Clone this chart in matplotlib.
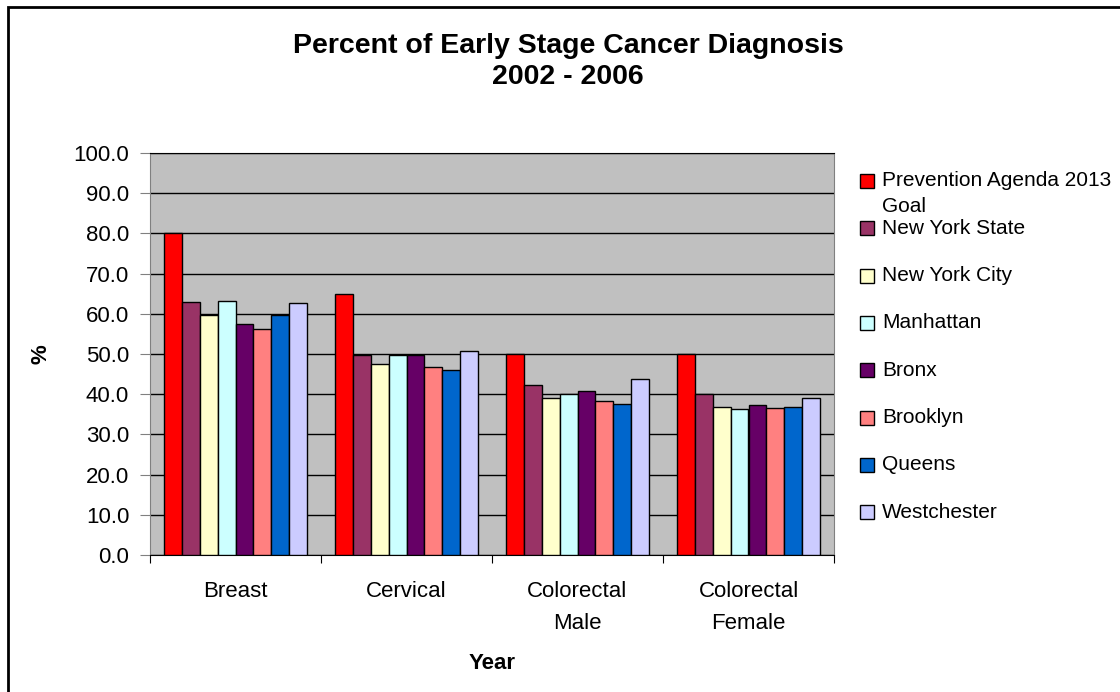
import matplotlib.pyplot as plt
import numpy as np
from matplotlib.patches import Rectangle

plt.rcParams['font.family'] = ['Liberation Sans', 'DejaVu Sans']

categories = ["Breast", "Cervical", "Colorectal\nMale", "Colorectal\nFemale"]
series_names = ["Prevention Agenda 2013\nGoal", "New York State", "New York City",
                "Manhattan", "Bronx", "Brooklyn", "Queens", "Westchester"]
colors = ["#FF0000", "#993366", "#FFFFCC", "#CCFFFF",
          "#660066", "#FF8080", "#0066CC", "#CCCCFF"]

goal = [80.0, 65.0, 50.0, 50.0]
nys = [63.0, 49.7, 42.4, 40.1]
nyc = [59.7, 47.5, 39.0, 36.9]
manhattan = [63.3, 49.7, 40.0, 36.2]
bronx = [57.5, 49.7, 40.8, 37.2]
brooklyn = [56.3, 46.8, 38.3, 36.5]
queens = [59.7, 46.0, 37.6, 36.9]
westchester = [62.6, 50.8, 43.8, 39.1]
values = [goal, nys, nyc, manhattan, bronx, brooklyn, queens, westchester]

fig = plt.figure(figsize=(11.2, 6.92), dpi=100)
ax = fig.add_axes([150 / 1120, 1 - 555 / 692, 684 / 1120, 402 / 692])
ax.set_facecolor("#C0C0C0")

x = np.arange(len(categories))
bw = 0.105
n = len(values)
for i, vals in enumerate(values):
    ax.bar(x + (i - (n - 1) / 2) * bw, vals, width=bw, color=colors[i],
           edgecolor="black", linewidth=1, zorder=3)

ax.set_xlim(-0.5, len(categories) - 0.5)
ax.set_ylim(0, 100)
ax.set_yticks(np.arange(0, 101, 10))
ax.set_yticklabels([f"{v:.1f}" for v in np.arange(0, 101, 10)], fontsize=16)
ax.yaxis.grid(True, color="black", linewidth=1, zorder=1)
ax.set_xticks(np.arange(-0.5, len(categories), 1.0))
ax.set_xticklabels([])
ax.set_xticks(x, minor=True)
ax.set_xticklabels(categories, minor=True, fontsize=16, linespacing=1.65)
ax.tick_params(axis="x", which="minor", length=0, pad=19)
ax.tick_params(axis="x", which="major", direction="out", length=6, color="black")
ax.tick_params(axis="y", direction="out", length=7, color="#808080", pad=8)
for s in ["left", "right"]:
    ax.spines[s].set_color("#808080")
ax.spines["top"].set_color("black")
ax.spines["bottom"].set_color("black")

ax.set_xlabel("Year", fontsize=16, fontweight="bold", labelpad=14)
ax.set_ylabel("%", fontsize=16, fontweight="bold", labelpad=16)

fig.text(568 / 1120, 1 - 61.5 / 692, "Percent of Early Stage Cancer Diagnosis\n2002 - 2006",
         ha="center", va="center", fontsize=20.5, fontweight="bold", linespacing=1.26)

# legend drawn by hand to match the Excel layout
for i, name in enumerate(series_names):
    yc = 181 + i * 47.3
    fig.add_artist(Rectangle((860 / 1120, 1 - (yc + 7) / 692), 14 / 1120, 14 / 692,
                             facecolor=colors[i], edgecolor="black", linewidth=1,
                             transform=fig.transFigure))
    fig.text(882 / 1120, 1 - yc / 692, name.split("\n")[0], ha="left", va="center", fontsize=15)
    if "\n" in name:
        fig.text(882 / 1120, 1 - (yc + 26) / 692, name.split("\n")[1], ha="left", va="center",
                 fontsize=15)

# outer chart border
fig.add_artist(Rectangle((8 / 1120, -0.1), 1.2, 1 - 7 / 692 + 0.1, fill=False,
                         edgecolor="black", linewidth=2, transform=fig.transFigure))

fig.savefig("out.png", dpi=100)
